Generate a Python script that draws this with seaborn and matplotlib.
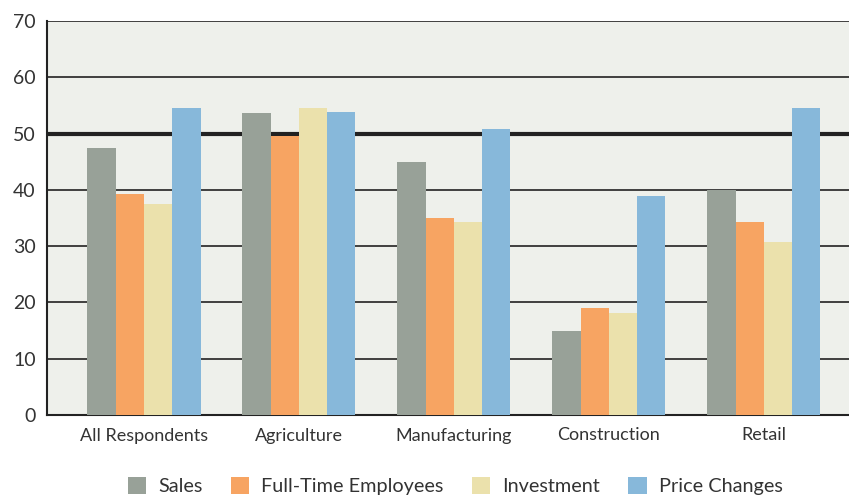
import matplotlib
matplotlib.use("Agg")
import matplotlib.pyplot as plt
import seaborn as sns
import pandas as pd
from matplotlib.patches import Patch

categories = ["All Respondents", "Agriculture", "Manufacturing", "Construction", "Retail"]
series = ["Sales", "Full-Time Employees", "Investment", "Price Changes"]
sales = [47.4, 53.6, 44.9, 14.9, 40.0]
employees = [39.3, 49.6, 35.0, 19.0, 34.3]
investment = [37.5, 54.5, 34.3, 18.1, 30.7]
price_changes = [54.5, 53.8, 50.8, 38.9, 54.5]
yticks = [0, 10, 20, 30, 40, 50, 60, 70]
colors = ["#98a198", "#f7a462", "#ebe1ac", "#87b8da"]

rows = []
for name, vals in zip(series, [sales, employees, investment, price_changes]):
    for c, v in zip(categories, vals):
        rows.append({"Category": c, "Series": name, "Value": v})
df = pd.DataFrame(rows)

sns.set_style("white")
plt.rcParams["font.family"] = ["Lato", "DejaVu Sans"]

fig = plt.figure(figsize=(8.49, 4.96), dpi=100)
ax = fig.add_axes([47/849, 1 - 415/496, 1 - 47/849, (415 - 21)/496])
ax.set_facecolor("#eef0eb")

sns.barplot(data=df, x="Category", y="Value", hue="Series", palette=colors,
            hue_order=series, order=categories, width=0.73, gap=0,
            saturation=1, ax=ax, legend=False, zorder=3, edgecolor="none")

for t in yticks:
    if t == 0:
        continue
    ax.axhline(t, color="#222222", lw=3.0 if t == 50 else 1.2, zorder=1)

ax.set_ylim(0, 70)
ax.set_xlim(-0.626, 4.55)
ax.set_yticks(yticks)
ax.set_yticklabels([str(t) for t in yticks], fontsize=14, color="#333333")
ax.tick_params(axis="both", length=0)
ax.tick_params(axis="y", pad=8)
ax.tick_params(axis="x", pad=9, labelsize=13, labelcolor="#333333")
ax.set_xlabel("")
ax.set_ylabel("")
for s in ["top", "right"]:
    ax.spines[s].set_visible(False)
for s in ["left", "bottom"]:
    ax.spines[s].set_color("#222222")
    ax.spines[s].set_linewidth(1.5)

handles = [Patch(facecolor=c, edgecolor="none", label=n) for c, n in zip(colors, series)]
fig.legend(handles=handles, loc="center", bbox_to_anchor=(0.536, 0.02), ncol=4,
           frameon=False, fontsize=14.3, handlelength=0.95, handleheight=0.95,
           columnspacing=1.4, handletextpad=0.6, labelcolor="#333333")

fig.savefig("out.png", dpi=100)
